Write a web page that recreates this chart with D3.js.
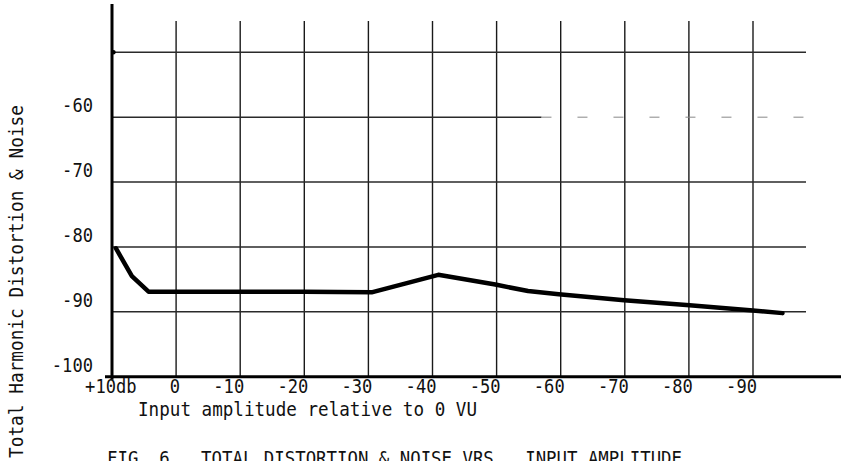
<!DOCTYPE html>
<html>
<head>
<meta charset="utf-8">
<script src="https://cdn.jsdelivr.net/npm/d3@7"></script>
<style>
  html, body { margin: 0; padding: 0; background: #fff; }
  text { font-family: 'DejaVu Sans Mono', 'Liberation Mono', monospace; fill: #111; white-space: pre; }
</style>
</head>
<body>
<div id="chart"></div>
<script>
// input amplitude (dB relative to 0 VU) and THD+N (dB)
const inputDb = [9.4, 6.9, 4.3, 0, -10, -20, -30.5, -40.9, -49.8, -54.9, -59.7, -69.9, -80.1, -90, -94.6];
const thdNoise = [-80.2, -84.5, -86.9, -86.9, -86.9, -86.9, -87.0, -84.3, -85.8, -86.8, -87.3, -88.2, -89.0, -89.8, -90.2];

const xTicks = [10, 0, -10, -20, -30, -40, -50, -60, -70, -80, -90];
const xTickLabels = ['+10db', '0', '-10', '-20', '-30', '-40', '-50', '-60', '-70', '-80', '-90'];
const yGrid = [-50, -60, -70, -80, -90];
const yTicks = [-60, -70, -80, -90, -100];
const yTickLabels = ['-60', '-70', '-80', '-90', '-100'];

const xTitle = 'Input amplitude relative to 0 VU';
const yTitle = 'Total Harmonic Distortion & Noise';
const caption = 'FIG. 6   TOTAL DISTORTION & NOISE VRS.  INPUT AMPLITUDE';

document.addEventListener('DOMContentLoaded', () => {

  const width = 841;
  const height = 461;
  const pitch = 10.3; // typewriter character width

  const svg = d3.select('#chart')
                .append('svg')
                .attr('width', width)
                .attr('height', height);

  const x = d3.scaleLinear()
              .domain([10, -90])
              .range([112, 753]);

  const y = d3.scaleLinear()
              .domain([-100, -50])
              .range([376.7, 52.3]);

  const gridRight = 806;
  const gridTop = 21;

  // vertical grid
  svg.append('g')
     .selectAll('line')
     .data(xTicks.slice(1))
     .enter()
     .append('line')
     .attr('x1', (d) => x(d))
     .attr('x2', (d) => x(d))
     .attr('y1', gridTop)
     .attr('y2', y(-100))
     .attr('stroke', '#1a1a1a')
     .attr('stroke-width', 1.4);

  // horizontal grid (the -60 line fades out on the right of the original)
  svg.append('g')
     .selectAll('line')
     .data(yGrid)
     .enter()
     .append('line')
     .attr('x1', x(10))
     .attr('x2', (d) => d === -60 ? x(-57) : gridRight)
     .attr('y1', (d) => y(d))
     .attr('y2', (d) => y(d))
     .attr('stroke', '#2a2a2a')
     .attr('stroke-width', 1.4);

  svg.append('line')
     .attr('x1', x(-57))
     .attr('x2', gridRight)
     .attr('y1', y(-60))
     .attr('y2', y(-60))
     .attr('stroke', '#888')
     .attr('stroke-width', 1)
     .attr('stroke-dasharray', '10 26');

  // axes
  svg.append('line')
     .attr('x1', x(10))
     .attr('x2', x(10))
     .attr('y1', 4)
     .attr('y2', y(-100) + 3)
     .attr('stroke', '#000')
     .attr('stroke-width', 3);

  svg.append('line')
     .attr('x1', x(10) - 7)
     .attr('x2', width)
     .attr('y1', y(-100))
     .attr('y2', y(-100))
     .attr('stroke', '#000')
     .attr('stroke-width', 3);

  svg.append('circle')
     .attr('cx', x(10) + 1.5)
     .attr('cy', y(-50))
     .attr('r', 2.2)
     .attr('fill', '#000');

  // curve
  const points = inputDb.map((d, i) => [d, thdNoise[i]]);
  const line = d3.line()
                 .x((d) => x(d[0]))
                 .y((d) => y(d[1]));

  svg.append('path')
     .datum(points)
     .attr('d', line)
     .attr('fill', 'none')
     .attr('stroke', '#000')
     .attr('stroke-width', 4.5)
     .attr('stroke-linejoin', 'round')
     .attr('stroke-linecap', 'round');

  // x tick labels: numeric part ends just right of its gridline, "db" hangs past it
  svg.append('g')
     .selectAll('text')
     .data(xTicks)
     .enter()
     .append('text')
     .attr('x', (d, i) => x(d) + 4 + (xTickLabels[i].endsWith('db') ? 2 * pitch : 0))
     .attr('y', y(-100) + 16)
     .attr('text-anchor', 'end')
     .attr('textLength', (d, i) => xTickLabels[i].length * pitch)
     .attr('lengthAdjust', 'spacingAndGlyphs')
     .style('font-size', '19.5px')
     .text((d, i) => xTickLabels[i]);

  // y tick labels
  svg.append('g')
     .selectAll('text')
     .data(yTicks)
     .enter()
     .append('text')
     .attr('x', 93)
     .attr('y', (d) => y(d) - 5)
     .attr('text-anchor', 'end')
     .attr('textLength', (d, i) => yTickLabels[i].length * pitch)
     .attr('lengthAdjust', 'spacingAndGlyphs')
     .style('font-size', '19.5px')
     .text((d, i) => yTickLabels[i]);

  // titles
  svg.append('text')
     .attr('x', 138)
     .attr('y', 416)
     .attr('textLength', 339)
     .attr('lengthAdjust', 'spacingAndGlyphs')
     .style('font-size', '19px')
     .text(xTitle);

  svg.append('text')
     .attr('transform', 'translate(23, 458) rotate(-90)')
     .attr('textLength', 353)
     .attr('lengthAdjust', 'spacingAndGlyphs')
     .style('font-size', '20px')
     .text(yTitle);

  svg.append('text')
     .attr('x', 107)
     .attr('y', 465)
     .attr('textLength', 575)
     .attr('lengthAdjust', 'spacingAndGlyphs')
     .style('font-size', '19.5px')
     .text(caption);

});
</script>
</body>
</html>
